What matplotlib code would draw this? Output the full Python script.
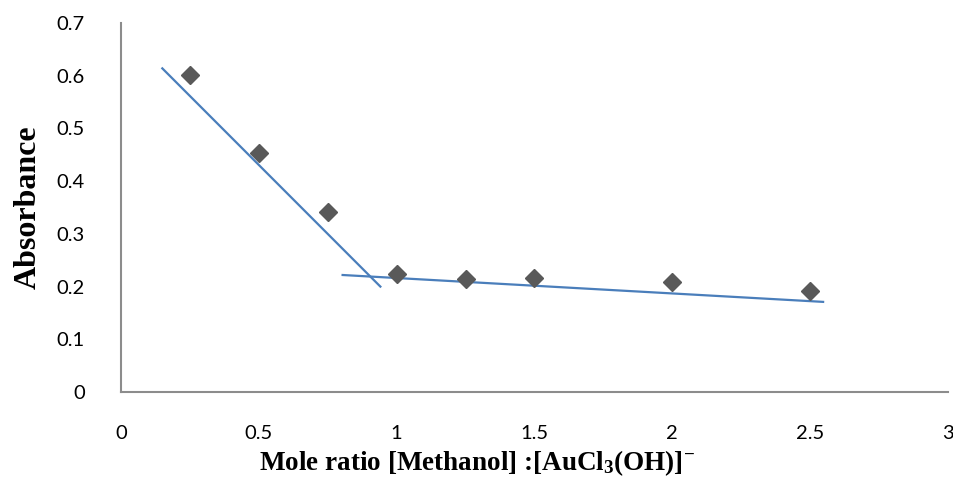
import matplotlib
matplotlib.use("Agg")
import matplotlib.pyplot as plt

# mole ratio vs absorbance
mole_ratio = [0.25, 0.5, 0.75, 1.0, 1.25, 1.5, 2.0, 2.5]
absorbance = [0.601, 0.453, 0.342, 0.224, 0.214, 0.216, 0.209, 0.192]

# the two hand-drawn trend lines
trend1_x = [0.15, 0.941]
trend1_y = [0.614, 0.200]
trend2_x = [0.804, 2.547]
trend2_y = [0.222, 0.171]

x_ticks = [0, 0.5, 1, 1.5, 2, 2.5, 3]
x_tick_labels = ["0", "0.5", "1", "1.5", "2", "2.5", "3"]
y_ticks = [0, 0.1, 0.2, 0.3, 0.4, 0.5, 0.6, 0.7]
y_tick_labels = ["0", "0.1", "0.2", "0.3", "0.4", "0.5", "0.6", "0.7"]

plt.rcParams["mathtext.fontset"] = "custom"
plt.rcParams["mathtext.rm"] = "Liberation Serif:bold"
plt.rcParams["mathtext.it"] = "Liberation Serif:bold"
plt.rcParams["mathtext.bf"] = "Liberation Serif:bold"

fig = plt.figure(figsize=(9.54, 4.8), dpi=100)
ax = fig.add_axes([0.1268, 0.1833, 0.8669, 0.7687])

line_color = "#4a7ebb"
ax.plot(trend1_x, trend1_y, color=line_color, lw=1.6, zorder=2)
ax.plot(trend2_x, trend2_y, color=line_color, lw=1.6, zorder=2)
ax.plot(mole_ratio, absorbance, ls="none", marker="D", ms=9.5,
        color="#595959", zorder=3)

ax.set_xlim(0, 3)
ax.set_ylim(0, 0.7)
ax.set_xticks(x_ticks, x_tick_labels)
ax.set_yticks(y_ticks, y_tick_labels)
ax.tick_params(length=0, labelsize=14.5, colors="black")
ax.tick_params(axis="x", pad=24)
ax.tick_params(axis="y", pad=26)
for lbl in ax.get_xticklabels() + ax.get_yticklabels():
    lbl.set_family("Lato")

for side in ["top", "right"]:
    ax.spines[side].set_visible(False)
for side in ["left", "bottom"]:
    ax.spines[side].set_color("#8c8c8c")
    ax.spines[side].set_linewidth(1.5)

ax.set_ylabel("Absorbance", family="Liberation Serif", fontweight="bold",
              fontsize=23, labelpad=10)
ax.set_xlabel(r"Mole ratio [Methanol] :[AuCl$_\mathrm{3}$(OH)]$^\mathrm{-}$",
              family="Liberation Serif", fontweight="bold", fontsize=19.5)
ax.xaxis.set_label_coords(0.43, -0.152)

fig.savefig("out.png", dpi=100)
